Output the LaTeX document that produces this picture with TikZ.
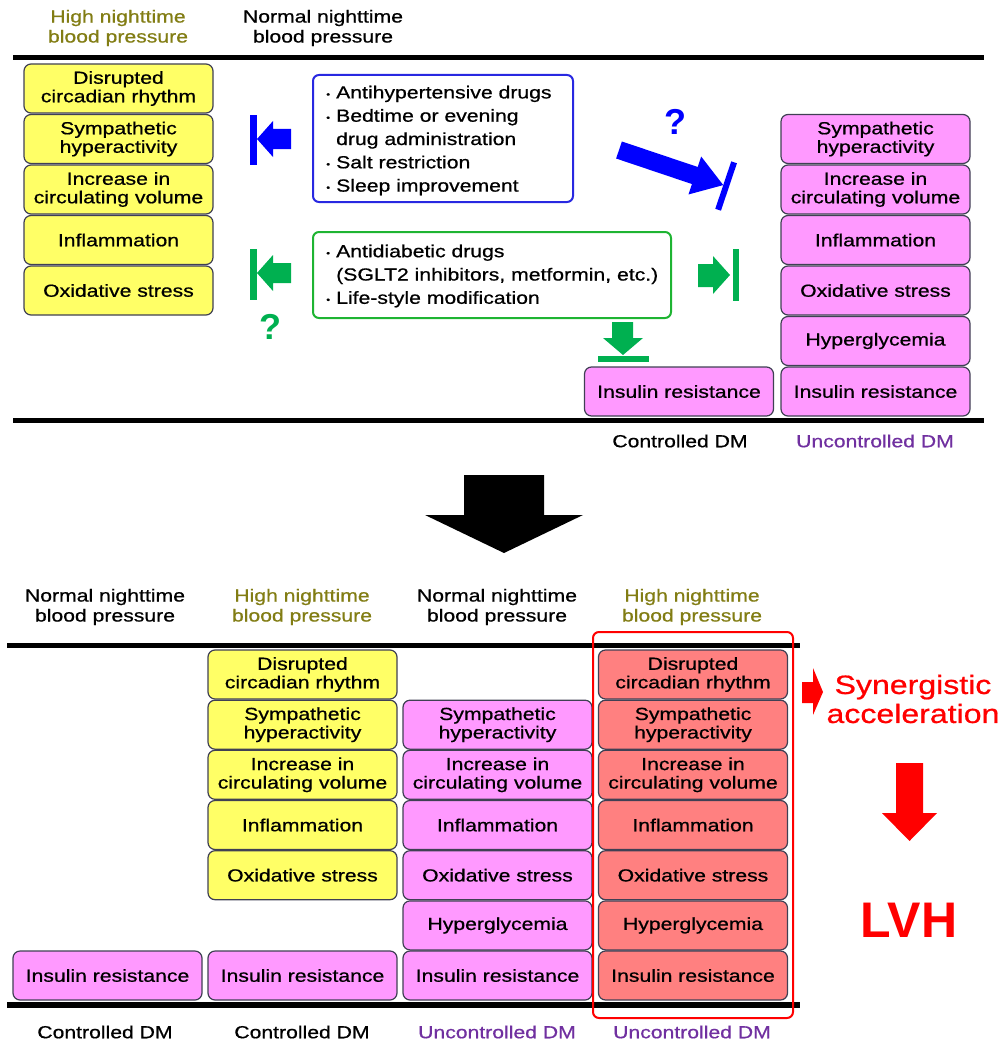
\documentclass[tikz,border=0pt]{standalone}
\usepackage{fontspec}
\setmainfont[FakeStretch=1.21,FakeBold=0.7]{Liberation Sans}
\newfontfamily\plainsf{Liberation Sans}
\definecolor{yelc}{RGB}{255,255,102}
\definecolor{pnkc}{RGB}{255,153,255}
\definecolor{salc}{RGB}{255,128,128}
\definecolor{bordc}{RGB}{64,64,84}
\definecolor{olivc}{RGB}{130,125,20}
\definecolor{purpc}{RGB}{112,48,160}
\definecolor{bluec}{RGB}{0,0,255}
\definecolor{bluebx}{RGB}{40,40,225}
\definecolor{greenc}{RGB}{0,176,80}
\definecolor{greenbx}{RGB}{30,180,50}
\definecolor{redc}{RGB}{255,0,0}
\newcommand\bxf{\fontsize{17.5}{18.5}\selectfont}
\newcommand\hdf{\fontsize{17.5}{20}\selectfont}
\newcommand\lsf{\fontsize{17.5}{23.3}\selectfont}
\newcommand\bul{\makebox[16pt][c]{\raisebox{1pt}{\fontsize{9}{9}\selectfont •}}}
\newcommand\ind{\hspace*{16pt}}
\newcommand\tDis{Disrupted\\circadian rhythm}
\newcommand\tSym{Sympathetic\\hyperactivity}
\newcommand\tInc{Increase in\\circulating volume}
\newcommand\tInf{Inflammation}
\newcommand\tOxi{Oxidative stress}
\newcommand\tHyp{Hyperglycemia}
\newcommand\tIns{Insulin resistance}
\begin{document}
\begin{tikzpicture}[x=1pt,y=-1pt,
  box/.style={draw=bordc, line width=1.2pt, rounded corners=7pt, minimum width=189pt, minimum height=49pt, align=center, inner sep=0pt, font=\bxf},
  yel/.style={box, fill=yelc},
  pnk/.style={box, fill=pnkc},
  sal/.style={box, fill=salc},
  hdr/.style={align=center, font=\hdf, inner sep=0pt},
  lbl/.style={font=\hdf, inner sep=0pt},
  qm/.style={font=\plainsf\bfseries\fontsize{36}{36}\selectfont, inner sep=0pt},
  rule/.style={line width=5pt}
]
\useasboundingbox (0,0) rectangle (1003,1046);

% ---------- top section ----------
\node[hdr, text=olivc] (th1) at (118,28) {High nighttime\\blood pressure};
\node[hdr] (th2) at (323,28) {Normal nighttime\\blood pressure};
\draw[rule] (13,58) -- (984,58);
\draw[rule] (13,420) -- (984,420);

\node[yel] (l1) at (118.5,88.5) {\tDis};
\node[yel] (l2) at (118.5,139) {\tSym};
\node[yel] (l3) at (118.5,189.5) {\tInc};
\node[yel] (l4) at (118.5,240) {\tInf};
\node[yel] (l5) at (118.5,290.5) {\tOxi};

\node[pnk] (r2) at (875.5,139) {\tSym};
\node[pnk] (r3) at (875.5,189.5) {\tInc};
\node[pnk] (r4) at (875.5,240) {\tInf};
\node[pnk] (r5) at (875.5,290.5) {\tOxi};
\node[pnk] (r6) at (875.5,341) {\tHyp};
\node[pnk] (r7) at (875.5,391.5) {\tIns};
\node[pnk] (c7) at (679,391.5) {\tIns};

\node[lbl] (tl1) at (680,441) {Controlled DM};
\node[lbl, text=purpc] (tl2) at (875,441) {Uncontrolled DM};

% treatment boxes
\node[draw=bluebx, line width=2pt, rounded corners=6pt, minimum width=260pt, minimum height=127pt] (bbox) at (443,138.5) {};
\node[anchor=west, align=left, inner sep=0pt, font=\lsf] (btxt) at (320,140.5)
  {\bul Antihypertensive drugs\\\bul Bedtime or evening\\\ind drug administration\\\bul Salt restriction\\\bul Sleep improvement};
\node[draw=greenbx, line width=2pt, rounded corners=6pt, minimum width=358pt, minimum height=86pt] (gbox) at (492,275) {};
\node[anchor=west, align=left, inner sep=0pt, font=\lsf] (gtxt) at (320,276)
  {\bul Antidiabetic drugs\\\ind (SGLT2 inhibitors, metformin, etc.)\\\bul Life-style modification};

% blue left blocking arrow
\fill[bluec] (250,115) rectangle (257,165);
\fill[bluec] (257,139) -- (273,121) -- (273,129) -- (291,129) -- (291,149) -- (273,149) -- (273,157) -- cycle;
% green left blocking arrow
\fill[greenc] (250,249) rectangle (257,300);
\fill[greenc] (257,273) -- (273,255) -- (273,263) -- (291,263) -- (291,283) -- (273,283) -- (273,291) -- cycle;
% green right blocking arrow
\fill[greenc] (733,249) rectangle (739,301);
\fill[greenc] (730,275) -- (713,256) -- (713,264) -- (698,264) -- (698,287) -- (713,287) -- (713,294) -- cycle;
% green down blocking arrow
\fill[greenc] (598,356) rectangle (649,362);
\fill[greenc] (623,355) -- (603,338) -- (612,338) -- (612,322) -- (633,322) -- (633,338) -- (643,338) -- cycle;
% blue diagonal blocking arrow
\begin{scope}[shift={(619,150)}, rotate=-18.6]
  \fill[bluec] (0,-9) -- (80,-9) -- (80,-20) -- (110,0) -- (80,20) -- (80,9) -- (0,9) -- cycle;
  \draw[bluec, line width=6pt] (113,-25) -- (113,25);
\end{scope}
\node[qm, text=bluec] (q1) at (675,122) {?};
\node[qm, text=greenc] (q2) at (270,327) {?};

% big black arrow
\fill[black] (464,475) -- (544,475) -- (544,515) -- (583,515) -- (504,553) -- (425,515) -- (464,515) -- cycle;

% ---------- bottom section ----------
\node[hdr] (bh1) at (105,607) {Normal nighttime\\blood pressure};
\node[hdr, text=olivc] (bh2) at (302,607) {High nighttime\\blood pressure};
\node[hdr] (bh3) at (497,607) {Normal nighttime\\blood pressure};
\node[hdr, text=olivc] (bh4) at (692,607) {High nighttime\\blood pressure};
\draw[rule] (7,645) -- (800,645);
\draw[line width=6pt] (7,1005) -- (800,1005);

\node[pnk] (a7) at (107.5,975.5) {\tIns};

\node[yel] (b1) at (302.5,674.5) {\tDis};
\node[yel] (b2) at (302.5,724.7) {\tSym};
\node[yel] (b3) at (302.5,774.8) {\tInc};
\node[yel] (b4) at (302.5,825.0) {\tInf};
\node[yel] (b5) at (302.5,875.2) {\tOxi};
\node[pnk] (b7) at (302.5,975.5) {\tIns};

\node[pnk] (d2) at (497.5,724.7) {\tSym};
\node[pnk] (d3) at (497.5,774.8) {\tInc};
\node[pnk] (d4) at (497.5,825.0) {\tInf};
\node[pnk] (d5) at (497.5,875.2) {\tOxi};
\node[pnk] (d6) at (497.5,925.4) {\tHyp};
\node[pnk] (d7) at (497.5,975.5) {\tIns};

\node[sal] (e1) at (693,674.5) {\tDis};
\node[sal] (e2) at (693,724.7) {\tSym};
\node[sal] (e3) at (693,774.8) {\tInc};
\node[sal] (e4) at (693,825.0) {\tInf};
\node[sal] (e5) at (693,875.2) {\tOxi};
\node[sal] (e6) at (693,925.4) {\tHyp};
\node[sal] (e7) at (693,975.5) {\tIns};

\draw[redc, line width=2pt, rounded corners=6pt] (593,632) rectangle (793,1018);

\node[lbl] (bl1) at (105,1032) {Controlled DM};
\node[lbl] (bl2) at (302,1032) {Controlled DM};
\node[lbl, text=purpc] (bl3) at (497,1032) {Uncontrolled DM};
\node[lbl, text=purpc] (bl4) at (692,1032) {Uncontrolled DM};

% red arrows and text
\fill[redc] (802,682) -- (813,682) -- (813,668) -- (823,692) -- (813,715) -- (813,703) -- (802,703) -- cycle;
\node[align=center, inner sep=0pt, text=redc, font=\fontsize{26.5}{29}\selectfont] (syn) at (913,699) {Synergistic\\acceleration};
\fill[redc] (896,763) -- (923,763) -- (923,813) -- (937,813) -- (909.5,841) -- (882,813) -- (896,813) -- cycle;
\node[anchor=base, inner sep=0pt, text=redc, font=\plainsf\bfseries\fontsize{50}{50}\selectfont] (lvh) at (909,937) {LVH};
\end{tikzpicture}
\end{document}
